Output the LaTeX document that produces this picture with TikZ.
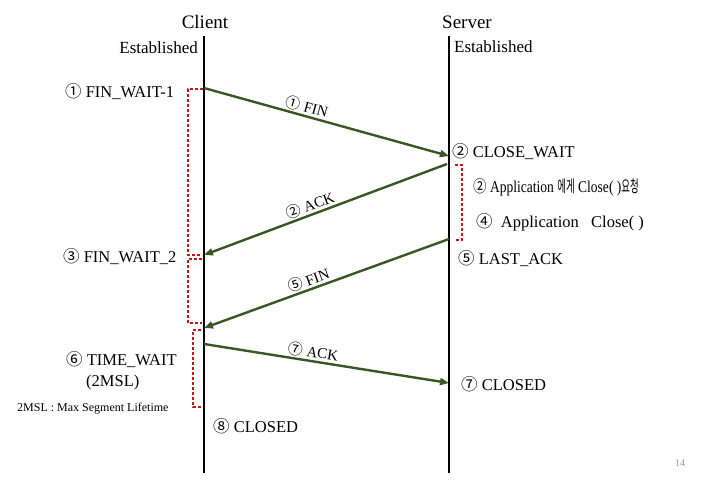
\documentclass[tikz,border=0pt]{standalone}
\usepackage{fontspec}
\usepackage{graphicx}
\setmainfont{Liberation Serif}
\newfontfamily\cjk{Noto Sans CJK KR}
\usetikzlibrary{arrows.meta}
\definecolor{arrowgreen}{RGB}{56,87,35}
\definecolor{brkred}{RGB}{200,20,20}
\definecolor{pagenum}{RGB}{150,150,150}
\newcommand{\cnum}[1]{{\cjk #1}}
\newcommand{\kor}[1]{\scalebox{0.7}[1]{\cjk #1}}
\begin{document}
\begin{tikzpicture}[x=1pt,y=-1pt,
  life/.style={line width=2.4pt, black},
  msg/.style={line width=2.4pt, draw=arrowgreen, -{Triangle[length=9pt,width=7pt]}},
  lbl/.style={font=\fontsize{15}{17}\selectfont, sloped, above, inner sep=1.5pt},
  state/.style={font=\fontsize{16.5}{19}\selectfont, inner sep=0pt, anchor=base west},
  est/.style={font=\fontsize{17}{19}\selectfont, inner sep=0pt},
  head/.style={font=\fontsize{19}{21}\selectfont, inner sep=0pt, anchor=base},
  brk/.style={draw=brkred, line width=1.1pt, dash pattern=on 3pt off 2pt},
]
\useasboundingbox (0,0) rectangle (713,490);

% headers
\node[head] (client) at (205,28) {Client};
\node[head] (server) at (467,28) {Server};
\node[est, anchor=base east] (estc) at (198,53) {Established};
\node[est, anchor=base west] (ests) at (454,52) {Established};

% lifelines
\coordinate (ct) at (204,36);
\coordinate (cb) at (204,473);
\coordinate (st) at (449,36);
\coordinate (sb) at (449,473);
\draw[life] (ct) -- (cb);
\draw[life] (st) -- (sb);

% message end points
\coordinate (m1a) at (204,88);
\coordinate (m1b) at (449,156);
\coordinate (m2a) at (447,164);
\coordinate (m2b) at (204,255);
\coordinate (m3a) at (449,239);
\coordinate (m3b) at (204,328);
\coordinate (m4a) at (204,344);
\coordinate (m4b) at (449,383);

\draw[msg] (m1a) -- node[lbl, pos=0.41] (l1) {\cnum{①} FIN} (m1b);
\draw[msg] (m2a) -- node[lbl, pos=0.55] (l2) {\cnum{②} ACK} (m2b);
\draw[msg] (m3a) -- node[lbl, pos=0.56] (l3) {\cnum{⑤} FIN} (m3b);
\draw[msg] (m4a) -- node[lbl, pos=0.44] (l4) {\cnum{⑦} ACK} (m4b);

% client states
\node[state] (fw1) at (65,97) {\cnum{①} FIN\_WAIT-1};
\node[state] (fw2) at (63,262) {\cnum{③} FIN\_WAIT\_2};
\node[state] (tw) at (66,365) {\cnum{⑥} TIME\_WAIT};
\node[state] (msl) at (86,386) {(2MSL)};
\node[font=\fontsize{12}{14}\selectfont, inner sep=0pt, anchor=base west] (note) at (17,411) {2MSL : Max Segment Lifetime};
\node[state] (cclosed) at (213,432) {\cnum{⑧} CLOSED};

% server states
\node[state] (cw) at (452,157) {\cnum{②} CLOSE\_WAIT};
\node[state] (app1) at (473,192) {\scalebox{0.82}[1]{\cnum{②} Application \kor{에게} Close( )\kor{요청}}};
\node[state] (app2) at (476,227) {\cnum{④}\ \ Application \ \ Close( )};
\node[state] (la) at (458,264) {\cnum{⑤} LAST\_ACK};
\node[state] (sclosed) at (461,390) {\cnum{⑦} CLOSED};

% brackets
\coordinate (b1a) at (203,89);
\coordinate (b1b) at (188,89);
\coordinate (b1c) at (188,255);
\coordinate (b1d) at (202,255);
\draw[brk] (b1a) -- (b1b) -- (b1c) -- (b1d);
\coordinate (b2a) at (202,259);
\coordinate (b2b) at (188,259);
\coordinate (b2c) at (188,323);
\coordinate (b2d) at (202,323);
\draw[brk] (b2a) -- (b2b) -- (b2c) -- (b2d);
\coordinate (b3a) at (201,330);
\coordinate (b3b) at (193,330);
\coordinate (b3c) at (193,407);
\coordinate (b3d) at (201,407);
\draw[brk] (b3a) -- (b3b) -- (b3c) -- (b3d);
\coordinate (b4a) at (455,165);
\coordinate (b4b) at (462,165);
\coordinate (b4c) at (462,240);
\coordinate (b4d) at (455,240);
\draw[brk] (b4a) -- (b4b) -- (b4c) -- (b4d);

% page number
\node[font=\fontsize{10}{12}\selectfont, text=pagenum, inner sep=0pt, anchor=base] (pg) at (680,466) {14};
\end{tikzpicture}
\end{document}
